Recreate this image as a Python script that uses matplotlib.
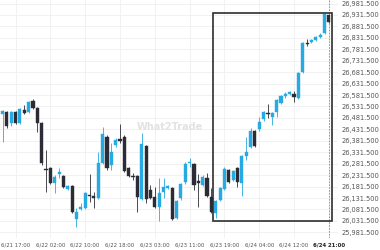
import matplotlib
matplotlib.use("Agg")
import matplotlib.pyplot as plt
import matplotlib.patches as patches

# hourly candles, 6/21 14:00 .. 6/24 21:00 (index based x axis)
opens = [26499, 26507, 26459, 26507, 26459, 26516, 26507, 26555, 26525, 26459,
         26258, 26263, 26197, 26236, 26228, 26171, 26184, 26040, 26083, 26088,
         26145, 26140, 26132, 26285, 26398, 26276, 26363, 26389, 26398, 26263,
         26228, 26228, 26127, 26359, 26166, 26136, 26092, 26158, 26175, 26175,
         26044, 26132, 26201, 26285, 26280, 26206, 26188, 26219, 26136, 26066,
         26123, 26171, 26254, 26210, 26263, 26197, 26315, 26354, 26424, 26433,
         26477, 26503, 26485, 26507, 26547, 26577, 26586, 26586, 26569, 26682,
         26809, 26813, 26822, 26835, 26853, 26931]
highs = [26516, 26512, 26512, 26512, 26525, 26538, 26555, 26564, 26529, 26464,
         26341, 26267, 26232, 26263, 26232, 26188, 26188, 26088, 26110, 26158,
         26236, 26158, 26333, 26442, 26407, 26372, 26394, 26455, 26407, 26267,
         26241, 26232, 26416, 26363, 26188, 26180, 26219, 26219, 26188, 26180,
         26123, 26197, 26289, 26306, 26285, 26236, 26232, 26241, 26175, 26123,
         26180, 26267, 26258, 26254, 26267, 26319, 26398, 26437, 26429, 26485,
         26512, 26542, 26507, 26564, 26582, 26595, 26599, 26599, 26682, 26813,
         26826, 26826, 26839, 26853, 26940, 26936]
lows = [26376, 26437, 26446, 26455, 26455, 26499, 26503, 26520, 26420, 26276,
        26158, 26193, 26153, 26219, 26175, 26166, 26066, 26005, 26079, 26083,
        26114, 26088, 26127, 26280, 26254, 26254, 26354, 26372, 26245, 26223,
        26210, 26070, 26123, 26110, 26127, 26088, 26031, 26132, 26171, 26035,
        26040, 26123, 26193, 26267, 26166, 26092, 26184, 26136, 26066, 26044,
        26118, 26166, 26197, 26206, 26180, 26140, 26298, 26350, 26354, 26424,
        26468, 26481, 26451, 26485, 26542, 26569, 26582, 26551, 26564, 26678,
        26796, 26809, 26818, 26831, 26848, 26896]
closes = [26512, 26446, 26507, 26459, 26520, 26503, 26551, 26525, 26459, 26285,
          26254, 26197, 26223, 26245, 26180, 26184, 26070, 26070, 26092, 26153,
          26140, 26132, 26285, 26411, 26263, 26333, 26385, 26381, 26250, 26228,
          26223, 26136, 26368, 26127, 26132, 26092, 26153, 26180, 26184, 26040,
          26118, 26193, 26280, 26289, 26188, 26197, 26223, 26140, 26070, 26118,
          26175, 26258, 26201, 26250, 26201, 26315, 26333, 26424, 26359, 26464,
          26507, 26499, 26503, 26560, 26577, 26586, 26595, 26573, 26678, 26809,
          26805, 26822, 26835, 26844, 26936, 26901]

tick_idx = [3, 11, 19, 27, 35, 43, 51, 59, 67, 75]
tick_labels = ["6/21 17:00", "6/22 02:00", "6/22 10:00", "6/22 18:00", "6/23 03:00",
               "6/23 11:00", "6/23 19:00", "6/24 04:00", "6/24 12:00", "6/24 21:00"]
y_ticks = [25981.5 + 50 * k for k in range(21)]

# pattern box (start idx, end idx, low, high)
box = (48.4, 75.75, 26031, 26941)

UP = "#27aae1"
DOWN = "#2c2c36"

fig = plt.figure(figsize=(3.8, 2.5), dpi=100)
ax = fig.add_axes([0, 12 / 250, 338 / 380, 238 / 250])

for i in range(len(opens)):
    o, h, l, c = opens[i], highs[i], lows[i], closes[i]
    col = UP if c >= o else DOWN
    ax.vlines(i, l, h, color=col, lw=0.6, zorder=3)
    bottom = min(o, c)
    height = max(abs(c - o), 1.5)
    ax.add_patch(patches.Rectangle((i - 0.36, bottom), 0.72, height,
                                   facecolor=col, edgecolor=col, lw=0.3, zorder=4))

x0, x1, lo, hi = box
ax.add_patch(patches.Rectangle((x0, lo), x1 - x0, hi - lo, fill=False,
                               edgecolor="#2e2e2e", lw=1.2, zorder=5))

ax.axvline(tick_idx[-1], color="#888888", lw=0.6, ls=(0, (2, 1.5)), zorder=2)

# watermark
ax.text(38.5, 26440, "What2Trade", fontsize=7, fontweight="bold", color="#e2e2e2",
        ha="center", va="center", zorder=1)

ax.set_xlim(-0.575, 77.1)
ax.set_ylim(25956.7, 26996.8)

ax.set_xticks(tick_idx)
ax.set_xticklabels(tick_labels, fontsize=3.9, color="#555555")
ax.get_xticklabels()[-1].set_color("#222222")
ax.get_xticklabels()[-1].set_fontweight("bold")
ax.set_yticks(y_ticks)
ax.set_yticklabels([f"{v:,.3f}" for v in y_ticks], fontsize=4.8, color="#555555")
ax.yaxis.tick_right()
ax.tick_params(length=0, pad=2.5)
ax.tick_params(axis="x", pad=3)

ax.grid(True, color="#efefef", lw=0.6, zorder=0)
ax.set_axisbelow(True)
for s in ax.spines.values():
    s.set_visible(False)

fig.savefig("out.png", dpi=100)
